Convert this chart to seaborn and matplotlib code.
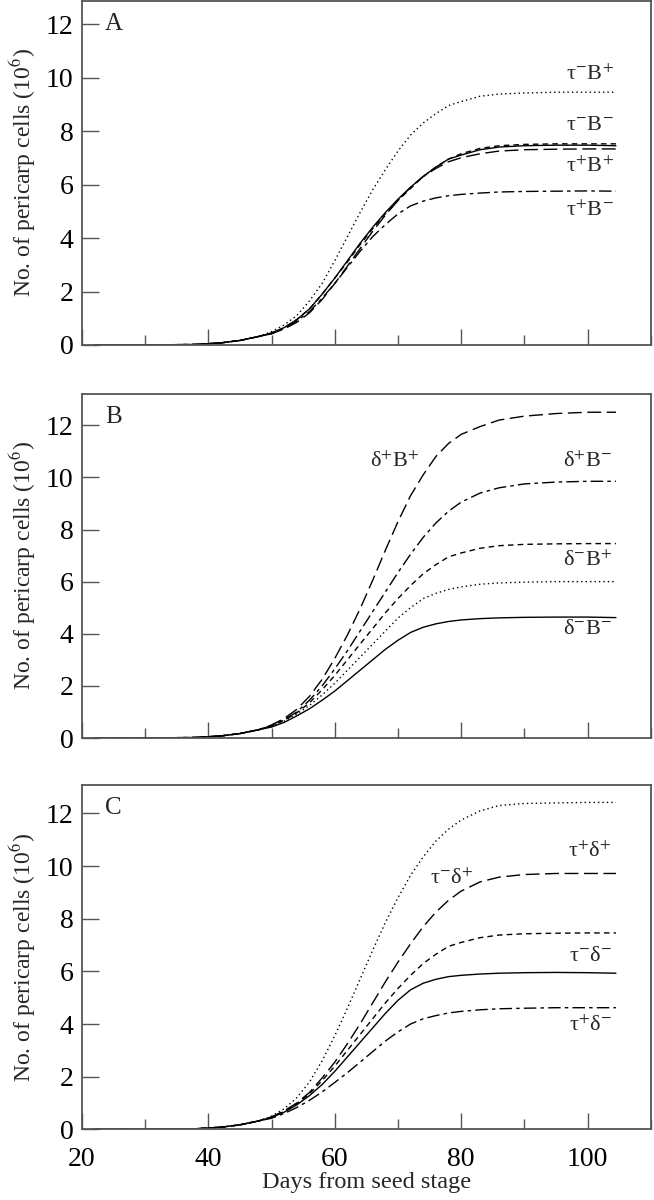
import matplotlib
matplotlib.use("Agg")
import matplotlib.pyplot as plt
import seaborn as sns
import pandas as pd
from matplotlib.ticker import MultipleLocator

days = [22, 30, 38, 42, 45, 48, 50, 52, 54, 56, 58, 60, 62, 64, 66, 68, 70,
        72, 74, 76, 78, 80, 83, 86, 90, 95, 100, 104.5]
early = [0.0, 0.0, 0.02, 0.08, 0.17, 0.32]

# panel A
a_tm_bp = early + [0.5, 0.75, 1.1, 1.65, 2.3, 3.15, 4.05, 4.95, 5.8, 6.55, 7.25,
                   7.85, 8.3, 8.65, 8.95, 9.1, 9.3, 9.38, 9.42, 9.45, 9.45, 9.45]
a_ctrl = early + [0.45, 0.65, 0.95, 1.35, 1.9, 2.5, 3.1, 3.75, 4.35, 4.9, 5.4,
                  5.85, 6.3, 6.65, 6.95, 7.15, 7.35, 7.45, 7.5, 7.52, 7.52, 7.52]
a_tm_bm = early + [0.45, 0.65, 0.95, 1.35, 1.9, 2.5, 3.15, 3.8, 4.4, 4.95, 5.45,
                   5.9, 6.3, 6.65, 6.95, 7.1, 7.3, 7.4, 7.45, 7.47, 7.47, 7.45]
a_tp_bp = early + [0.42, 0.6, 0.85, 1.2, 1.7, 2.3, 2.95, 3.6, 4.25, 4.85, 5.4,
                   5.9, 6.3, 6.6, 6.85, 7.0, 7.15, 7.25, 7.3, 7.32, 7.33, 7.33]
a_tp_bm = early + [0.42, 0.62, 0.9, 1.25, 1.75, 2.3, 2.9, 3.5, 4.05, 4.5, 4.9,
                   5.2, 5.38, 5.5, 5.58, 5.63, 5.68, 5.72, 5.74, 5.75, 5.76, 5.75]

# panel B
b_dp_bp = early + [0.5, 0.75, 1.1, 1.6, 2.25, 3.05, 3.95, 4.95, 6.05, 7.2, 8.3,
                   9.3, 10.1, 10.8, 11.3, 11.65, 11.95, 12.2, 12.35, 12.45, 12.5, 12.5]
b_dp_bm = early + [0.48, 0.7, 1.0, 1.45, 2.0, 2.65, 3.35, 4.1, 4.85, 5.6, 6.35,
                   7.05, 7.7, 8.25, 8.7, 9.05, 9.4, 9.6, 9.75, 9.82, 9.85, 9.85]
b_ctrl = early + [0.47, 0.68, 0.97, 1.35, 1.85, 2.4, 3.0, 3.6, 4.2, 4.8, 5.35,
                  5.85, 6.3, 6.65, 6.95, 7.1, 7.28, 7.38, 7.43, 7.45, 7.46, 7.46]
b_dm_bp = early + [0.45, 0.65, 0.92, 1.25, 1.65, 2.1, 2.6, 3.1, 3.6, 4.1, 4.6,
                   5.0, 5.35, 5.55, 5.7, 5.8, 5.9, 5.95, 5.98, 6.0, 6.0, 6.0]
b_dm_bm = early + [0.42, 0.6, 0.85, 1.12, 1.45, 1.8, 2.2, 2.6, 3.0, 3.4, 3.75,
                   4.05, 4.25, 4.38, 4.47, 4.53, 4.58, 4.61, 4.63, 4.64, 4.64, 4.62]

# panel C
c_tm_dp = early + [0.5, 0.78, 1.2, 1.8, 2.6, 3.55, 4.6, 5.7, 6.8, 7.85, 8.8,
                   9.65, 10.35, 10.95, 11.4, 11.75, 12.1, 12.3, 12.38, 12.4, 12.42, 12.42]
c_tp_dp = early + [0.47, 0.7, 1.0, 1.4, 1.95, 2.55, 3.25, 4.0, 4.8, 5.6, 6.35,
                   7.05, 7.7, 8.25, 8.7, 9.05, 9.4, 9.58, 9.68, 9.72, 9.72, 9.72]
c_ctrl = early + [0.47, 0.68, 0.97, 1.35, 1.85, 2.4, 3.0, 3.6, 4.2, 4.8, 5.35,
                  5.85, 6.3, 6.65, 6.95, 7.1, 7.28, 7.38, 7.43, 7.45, 7.46, 7.46]
c_tm_dm = early + [0.45, 0.65, 0.93, 1.28, 1.7, 2.2, 2.75, 3.3, 3.85, 4.4, 4.9,
                   5.3, 5.55, 5.7, 5.8, 5.85, 5.9, 5.93, 5.95, 5.96, 5.95, 5.93]
c_tp_dm = early + [0.42, 0.6, 0.83, 1.1, 1.42, 1.78, 2.15, 2.55, 2.95, 3.35, 3.7,
                   4.0, 4.2, 4.32, 4.42, 4.48, 4.54, 4.58, 4.6, 4.62, 4.62, 4.62]

dash_styles = {
    "dot": (1, 2.2),
    "short": (4, 3),
    "long": (10, 4),
    "dashdot": (9, 3, 2.5, 3),
    "solid": "",
}

panels = [
    ("A", 12.86, [("dot", a_tm_bp), ("short", a_ctrl), ("solid", a_tm_bm),
                  ("long", a_tp_bp), ("dashdot", a_tp_bm)],
     [("τ$^{-}$B$^{+}$", 104.2, 10.1),
      ("τ$^{-}$B$^{-}$", 104.2, 8.2),
      ("τ$^{+}$B$^{+}$", 104.2, 6.65),
      ("τ$^{+}$B$^{-}$", 104.2, 5.0)]),
    ("B", 13.2, [("long", b_dp_bp), ("dashdot", b_dp_bm), ("short", b_ctrl),
                 ("dot", b_dm_bp), ("solid", b_dm_bm)],
     [("δ$^{+}$B$^{+}$", 73.5, 10.6),
      ("δ$^{+}$B$^{-}$", 103.9, 10.6),
      ("δ$^{-}$B$^{+}$", 103.9, 6.8),
      ("δ$^{-}$B$^{-}$", 103.9, 4.15)]),
    ("C", 13.07, [("dot", c_tm_dp), ("long", c_tp_dp), ("short", c_ctrl),
                  ("solid", c_tm_dm), ("dashdot", c_tp_dm)],
     [("τ$^{-}$δ$^{+}$", 82.0, 9.5),
      ("τ$^{+}$δ$^{+}$", 103.9, 10.55),
      ("τ$^{-}$δ$^{-}$", 103.9, 6.55),
      ("τ$^{+}$δ$^{-}$", 103.9, 3.95)]),
]

sns.set_style("ticks")
plt.rcParams["font.family"] = ["Liberation Serif", "DejaVu Serif"]
plt.rcParams["mathtext.fontset"] = "stix"

fig = plt.figure(figsize=(6.54, 12), dpi=100)
left, width, height = 82 / 654, 568.7 / 654, 344 / 1200
bottoms = [1 - 345 / 1200, 1 - 738 / 1200, 1 - 1129.3 / 1200]
spine_col = "#555555"

for i, (letter, ytop, series, labels) in enumerate(panels):
    ax = fig.add_axes([left, bottoms[i], width, height])
    rows = []
    for style, vals in series:
        for d, v in zip(days, vals):
            rows.append({"day": d, "cells": v, "line": style})
    df = pd.DataFrame(rows)
    sns.lineplot(data=df, x="day", y="cells", style="line", dashes=dash_styles,
                 color="black", linewidth=1.0, legend=False, ax=ax,
                 estimator=None, sort=False)
    ax.set_xlim(20, 110)
    ax.set_ylim(0, ytop)
    ax.xaxis.set_major_locator(MultipleLocator(20))
    ax.xaxis.set_minor_locator(MultipleLocator(10))
    ax.yaxis.set_major_locator(MultipleLocator(2))
    ax.tick_params(axis="both", which="both", direction="in", colors=spine_col,
                   labelcolor="black", labelsize=20, width=1.0)
    ax.tick_params(axis="y", which="major", length=12, pad=6)
    ax.tick_params(axis="x", which="major", length=11.5, pad=13)
    ax.tick_params(axis="x", which="minor", length=7)
    for sp in ax.spines.values():
        sp.set_visible(True)
        sp.set_color(spine_col)
        sp.set_linewidth(1.3)
    ax.set_ylabel("No. of pericarp cells (10$^6$)", fontsize=17, labelpad=6)
    if i < 2:
        ax.set_xlabel("")
        ax.tick_params(axis="x", labelbottom=False)
    else:
        ax.set_xlabel("Days from seed stage", fontsize=17.5, labelpad=0)
    ax.text(0.04, 0.933, letter, transform=ax.transAxes, fontsize=18,
            ha="left", va="center")
    for txt, x, y in labels:
        ax.text(x, y, txt, fontsize=16, ha="right", va="center")

fig.savefig("out.png", dpi=100)
